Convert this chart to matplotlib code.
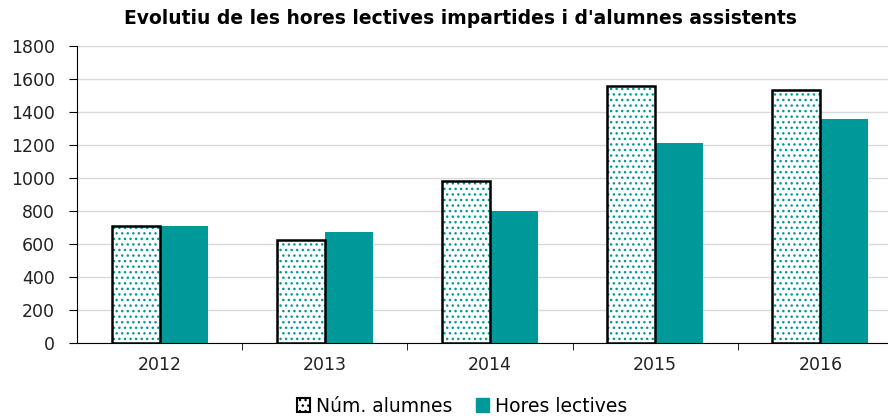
import matplotlib
matplotlib.use("Agg")
import matplotlib.pyplot as plt
import numpy as np
from matplotlib.patches import Patch
from matplotlib.ticker import FixedLocator

years = ["2012", "2013", "2014", "2015", "2016"]
num_alumnes = [710, 624, 982, 1559, 1533]
hores_lectives = [712, 673, 800, 1210, 1356]

teal = "#009999"
fig = plt.figure(figsize=(8.88, 4.16), dpi=100)
ax = fig.add_axes([77/888, 73/416, 826/888, 297/416])

x = np.arange(len(years))
w = 0.29
ax.bar(x - w/2, num_alumnes, w, facecolor="white", edgecolor=teal, hatch="...", linewidth=0, zorder=2)
ax.bar(x - w/2, num_alumnes, w, fill=False, edgecolor="black", linewidth=1.8, zorder=3)
ax.bar(x + w/2, hores_lectives, w, color=teal, linewidth=0, zorder=2)

ax.set_ylim(0, 1800)
ax.set_xlim(-0.5, len(years) - 0.5)
ax.set_yticks(range(0, 1801, 200))
ax.yaxis.grid(True, color="#d9d9d9", linewidth=1)
ax.set_axisbelow(True)
ax.set_xticks(x)
ax.set_xticklabels(years)
ax.xaxis.set_minor_locator(FixedLocator(np.arange(0.5, len(years) - 0.5, 1)))
ax.tick_params(axis="x", which="major", length=0, pad=9, labelsize=12.5, labelcolor="#222222")
ax.tick_params(axis="x", which="minor", length=5, direction="out", color="black")
ax.tick_params(axis="y", length=6, labelsize=12.5, pad=10, labelcolor="#222222")
for s in ["top", "right"]:
    ax.spines[s].set_visible(False)
ax.spines["left"].set_color("black")
ax.spines["bottom"].set_color("black")

fig.text(460/888, 1 - 18/416, "Evolutiu de les hores lectives impartides i d'alumnes assistents",
         ha="center", va="center", fontsize=13.5, fontweight="bold")

handles = [Patch(facecolor="white", edgecolor="black", hatch="...", linewidth=1.5, label="Núm. alumnes"),
           Patch(facecolor=teal, edgecolor=teal, label="Hores lectives")]
fig.legend(handles=handles, loc="center", bbox_to_anchor=(462/888, 1 - 406/416), ncol=2,
           frameon=False, fontsize=13.5, handlelength=0.7, handleheight=0.7, handletextpad=0.3,
           columnspacing=1.3)

fig.savefig("out.png", dpi=100)
